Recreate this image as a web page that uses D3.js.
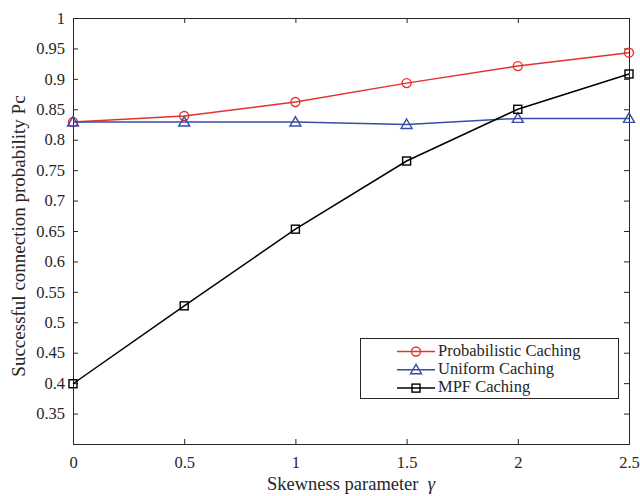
<!DOCTYPE html>
<html>
<head>
<meta charset="utf-8">
<script src="https://cdn.jsdelivr.net/npm/d3@7"></script>
<style>
	body { margin: 0; background: #fff; }
	svg text { font-family: "Liberation Serif", "DejaVu Serif", serif; fill: #262626; }
</style>
</head>
<body>
<div id="chart"></div>
<script>
// data
const gammas = [0, 0.5, 1, 1.5, 2, 2.5];
const probabilistic = [0.829, 0.839, 0.862, 0.893, 0.921, 0.943];
const uniform = [0.829, 0.829, 0.829, 0.825, 0.835, 0.835];
const mpf = [0.399, 0.527, 0.653, 0.765, 0.850, 0.908];
const xTicks = [0, 0.5, 1, 1.5, 2, 2.5];
const yTicks = [0.35, 0.4, 0.45, 0.5, 0.55, 0.6, 0.65, 0.7, 0.75, 0.8, 0.85, 0.9, 0.95, 1];
const seriesNames = ["Probabilistic Caching", "Uniform Caching", "MPF Caching"];

const width = 640, height = 496;
const margin = { top: 18, right: 11, bottom: 52, left: 73 };

const svg = d3.select("#chart").append("svg")
	.attr("width", width)
	.attr("height", height);

const x = d3.scaleLinear().domain([0, 2.5]).range([margin.left, width - margin.right]);
const y = d3.scaleLinear().domain([0.3, 1]).range([height - margin.bottom, margin.top]);

const fmt = d => String(+d.toFixed(2));

// axes with inward ticks on all four sides
svg.append("g")
	.attr("transform", `translate(0,${y(0.3)})`)
	.call(d3.axisBottom(x).tickValues(xTicks).tickSize(-5).tickPadding(12).tickFormat(fmt))
	.call(g => g.selectAll("text").attr("font-size", 16.5));
svg.append("g")
	.attr("transform", `translate(0,${y(1)})`)
	.call(d3.axisTop(x).tickValues(xTicks).tickSize(-5).tickFormat(""));
svg.append("g")
	.attr("transform", `translate(${x(0)},0)`)
	.call(d3.axisLeft(y).tickValues(yTicks).tickSize(-5).tickPadding(8).tickFormat(fmt))
	.call(g => g.selectAll("text").attr("font-size", 16.5));
svg.append("g")
	.attr("transform", `translate(${x(2.5)},0)`)
	.call(d3.axisRight(y).tickValues(yTicks).tickSize(-5).tickFormat(""));

svg.selectAll(".domain").attr("stroke", "#262626");
svg.selectAll(".tick line").attr("stroke", "#262626");

// axis labels
svg.append("text")
	.attr("x", 351)
	.attr("y", 490)
	.attr("text-anchor", "middle")
	.attr("font-size", 18.5)
	.html('Skewness parameter&#160;&#160;<tspan font-style="italic">γ</tspan>');

svg.append("text")
	.attr("transform", `translate(25,236) rotate(-90)`)
	.attr("text-anchor", "middle")
	.attr("font-size", 19)
	.text("Successful connection probability Pc");

const series = [
	{ name: seriesNames[0], values: probabilistic, color: "#e5312b", marker: "circle" },
	{ name: seriesNames[1], values: uniform, color: "#3a4da6", marker: "triangle" },
	{ name: seriesNames[2], values: mpf, color: "#000000", marker: "square" }
];

const line = d3.line().x((d, i) => x(gammas[i])).y(d => y(d));

function drawMarker(g, type, cx, cy, color) {
	if (type === "circle") {
		g.append("circle").attr("cx", cx).attr("cy", cy).attr("r", 4.5)
			.attr("fill", "none").attr("stroke", color).attr("stroke-width", 1.4);
	} else if (type === "triangle") {
		g.append("path")
			.attr("d", `M${cx},${cy - 5.5}L${cx + 5.5},${cy + 4}L${cx - 5.5},${cy + 4}Z`)
			.attr("fill", "none").attr("stroke", color).attr("stroke-width", 1.4);
	} else {
		g.append("rect").attr("x", cx - 4).attr("y", cy - 4).attr("width", 8).attr("height", 8)
			.attr("fill", "none").attr("stroke", color).attr("stroke-width", 1.4);
	}
}

series.forEach(s => {
	const g = svg.append("g");
	g.append("path")
		.datum(s.values)
		.attr("d", line)
		.attr("fill", "none")
		.attr("stroke", s.color)
		.attr("stroke-width", 1.5);
	s.values.forEach((v, i) => drawMarker(g, s.marker, x(gammas[i]), y(v), s.color));
});

// legend
const legend = svg.append("g");
legend.append("rect")
	.attr("x", 360.5).attr("y", 338.5)
	.attr("width", 258).attr("height", 60)
	.attr("fill", "#fff").attr("stroke", "#262626").attr("stroke-width", 1);

series.forEach((s, i) => {
	const ly = 351.5 + i * 18.3;
	legend.append("line")
		.attr("x1", 397).attr("x2", 435).attr("y1", ly).attr("y2", ly)
		.attr("stroke", s.color).attr("stroke-width", 1.5);
	drawMarker(legend, s.marker, 416, ly, s.color);
	legend.append("text")
		.attr("x", 438).attr("y", ly + 4)
		.attr("font-size", 16.5)
		.text(s.name);
});
</script>
</body>
</html>
